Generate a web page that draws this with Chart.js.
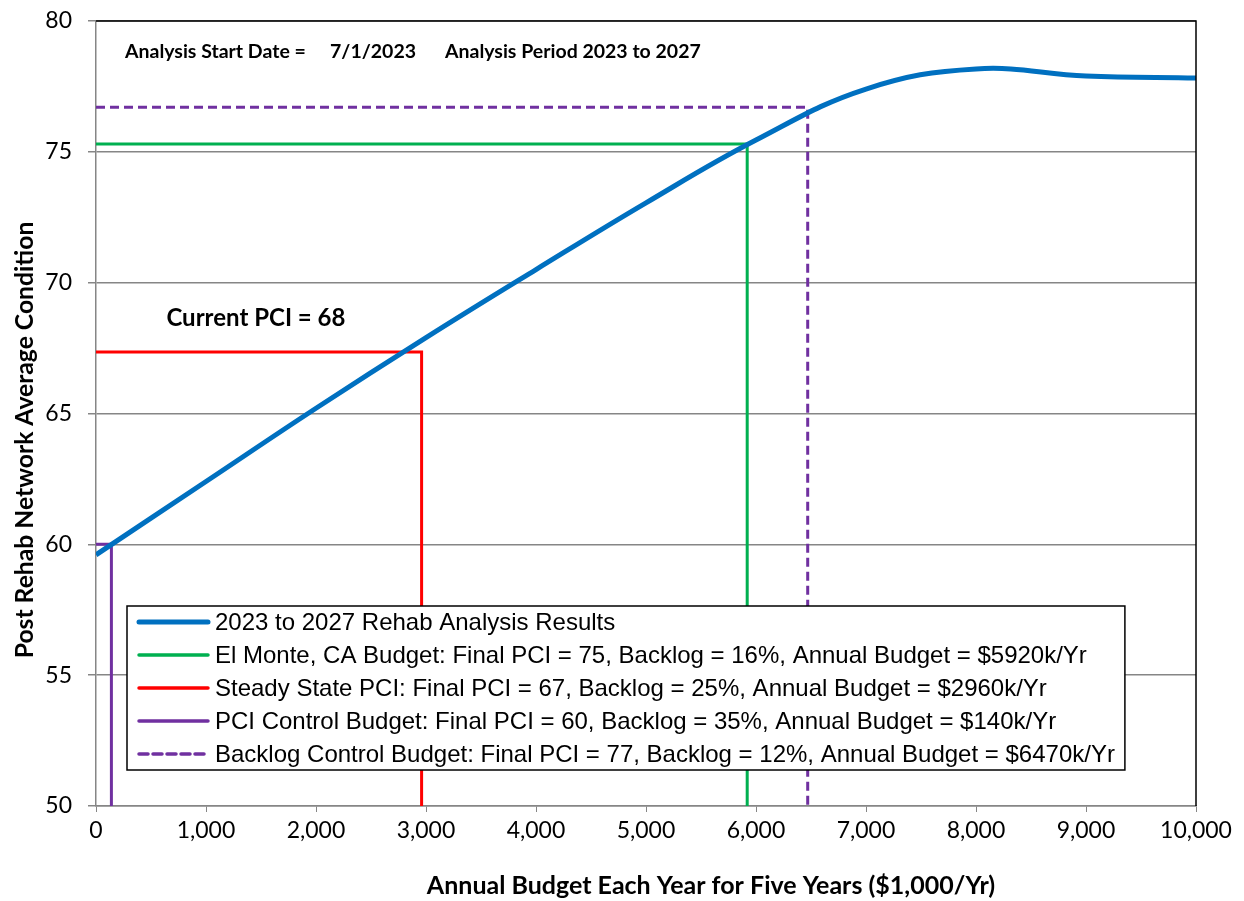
<!DOCTYPE html>
<html>
<head>
<meta charset="utf-8">
<script src="https://cdn.jsdelivr.net/npm/chart.js@4.4.0/dist/chart.umd.min.js"></script>
<style>
  body { margin: 0; background: #fff; }
  #wrap { width: 1244px; height: 901px; position: relative; }
</style>
</head>
<body>
<div id="wrap"><canvas id="myChart"></canvas></div>
<script>
// budget curve (x in $1,000/yr, y = post rehab PCI)
const budgetX = [0, 1000, 2000, 3000, 4000, 5000, 6000, 7000, 8000, 9000, 10000];
const pciY = [59.6, 62.4, 65.2, 67.9, 70.5, 73.05, 75.45, 77.4, 78.17, 77.9, 77.82];

// budget scenarios
const scenarioLabels = [
    'El Monte, CA Budget: Final PCI = 75, Backlog = 16%, Annual Budget = $5920k/Yr',
    'Steady State PCI: Final PCI = 67, Backlog = 25%, Annual Budget = $2960k/Yr',
    'PCI Control Budget: Final PCI = 60, Backlog = 35%, Annual Budget = $140k/Yr',
    'Backlog Control Budget: Final PCI = 77, Backlog = 12%, Annual Budget = $6470k/Yr'
];
const scenarioBudget = [5920, 2960, 140, 6470];
const scenarioPCI = [75.3, 67.35, 60, 76.7];
const scenarioColors = ['#00B050', '#FF0000', '#7030A0', '#7030A0'];
const scenarioDash = [[], [], [], [9, 5]];

const curveLabel = '2023 to 2027 Rehab Analysis Results';
const xTitle = 'Annual Budget Each Year for Five Years ($1,000/Yr)';
const yTitle = 'Post Rehab Network Average Condition';
const yTicks = [50, 55, 60, 65, 70, 75, 80];
const xTicks = [0, 1000, 2000, 3000, 4000, 5000, 6000, 7000, 8000, 9000, 10000];

const datasets = [{
    label: curveLabel,
    data: budgetX.map((x, i) => ({ x: x, y: pciY[i] })),
    borderColor: '#0070C0',
    borderWidth: 5,
    tension: 0.4,
    showLine: true,
    pointRadius: 0
}];
scenarioLabels.forEach((lab, i) => {
    datasets.push({
        label: lab,
        data: [
            { x: 0, y: scenarioPCI[i] },
            { x: scenarioBudget[i], y: scenarioPCI[i] },
            { x: scenarioBudget[i], y: 50 }
        ],
        borderColor: scenarioColors[i],
        borderWidth: 3,
        borderDash: scenarioDash[i],
        tension: 0,
        showLine: true,
        pointRadius: 0
    });
});

// กรอบด้านบน/ขวา, ชื่อแกน, ข้อความ และ legend ภายในกราฟ
const extrasPlugin = {
    id: 'extras',
    afterDatasetsDraw(chart) {
        const { ctx, chartArea: a, scales } = chart;
        ctx.save();
        ctx.strokeStyle = '#000';
        ctx.lineWidth = 1.5;
        ctx.beginPath();
        ctx.moveTo(a.left, a.top);
        ctx.lineTo(a.right, a.top);
        ctx.lineTo(a.right, a.bottom);
        ctx.stroke();

        // axis titles (Excel puts them a bit off-centre)
        ctx.fillStyle = '#000';
        ctx.textBaseline = 'middle';
        ctx.textAlign = 'center';
        ctx.font = 'bold 25px Lato';
        ctx.fillText(xTitle, 711, 886);
        ctx.save();
        ctx.translate(25, 440);
        ctx.rotate(-Math.PI / 2);
        ctx.font = 'bold 24.7px Lato';
        ctx.fillText(yTitle, 0, 0);
        ctx.restore();

        ctx.textAlign = 'left';
        ctx.font = 'bold 19.5px Lato';
        ctx.fillText('Analysis Start Date =', a.left + 29, a.top + 31);
        ctx.fillText('7/1/2023', a.left + 234, a.top + 31);
        ctx.fillText('Analysis Period 2023 to 2027', a.left + 349, a.top + 31);

        ctx.font = 'bold 24px Lato';
        ctx.fillText('Current PCI = 68', scales.x.getPixelForValue(640), scales.y.getPixelForValue(68.65));

        // legend
        const lx = a.left + 31, ly = a.top + 585;
        const rowH = 33;
        ctx.font = '24px "Liberation Sans", Arial';
        let maxW = 0;
        chart.data.datasets.forEach(d => { maxW = Math.max(maxW, ctx.measureText(d.label).width); });
        const bw = 88 + maxW + 10, bh = rowH * 5 - 1;
        ctx.fillStyle = '#fff';
        ctx.fillRect(lx, ly, bw, bh);
        ctx.strokeStyle = '#000';
        ctx.lineWidth = 1.5;
        ctx.strokeRect(lx, ly, bw, bh);
        chart.data.datasets.forEach((d, i) => {
            const cy = ly + 16 + i * rowH;
            ctx.strokeStyle = d.borderColor;
            ctx.lineWidth = i === 0 ? 5 : 3.5;
            ctx.lineCap = 'round';
            ctx.setLineDash(d.borderDash || []);
            ctx.beginPath();
            ctx.moveTo(lx + 12, cy);
            ctx.lineTo(lx + 81, cy);
            ctx.stroke();
            ctx.setLineDash([]);
            ctx.fillStyle = '#000';
            ctx.fillText(d.label, lx + 88, cy + 1);
        });
        ctx.restore();
    }
};

const ctx = document.getElementById('myChart').getContext('2d');
new Chart(ctx, {
    type: 'scatter',
    data: { datasets: datasets },
    options: {
        responsive: true,
        maintainAspectRatio: false,
        animation: false,
        layout: { padding: { top: 21, right: 48, left: 0, bottom: 0 } },
        scales: {
            x: {
                type: 'linear',
                min: 0,
                max: 10000,
                afterBuildTicks: (s) => { s.ticks = xTicks.map(v => ({ value: v })); },
                afterFit: (s) => { s.height = 95; s.paddingLeft = 0; s.paddingRight = 0; },
                grid: { drawOnChartArea: false, drawTicks: true, tickLength: 6, color: '#868686' },
                border: { color: '#868686', width: 1.5 },
                ticks: {
                    color: '#000',
                    padding: 5,
                    font: { family: 'Lato', size: 23 },
                    callback: (v) => v.toLocaleString('en-US')
                }
            },
            y: {
                min: 50,
                max: 80,
                afterBuildTicks: (s) => { s.ticks = yTicks.map(v => ({ value: v })); },
                afterFit: (s) => { s.width = 96; s.paddingTop = 0; s.paddingBottom = 0; },
                grid: { color: '#868686', lineWidth: 1.5, tickLength: 8 },
                border: { color: '#868686', width: 1.5 },
                ticks: {
                    color: '#000',
                    padding: 16,
                    font: { family: 'Lato', size: 23 }
                }
            }
        },
        plugins: {
            legend: { display: false },
            tooltip: { enabled: false }
        }
    },
    plugins: [extrasPlugin]
});
</script>
</body>
</html>
